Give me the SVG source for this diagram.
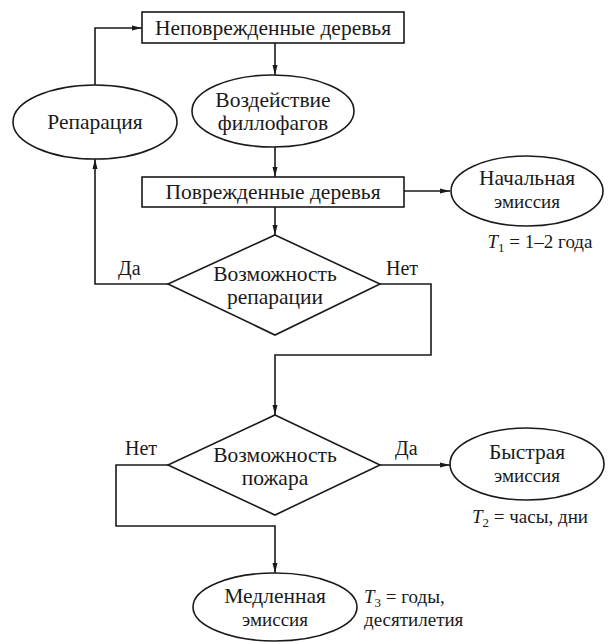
<svg xmlns="http://www.w3.org/2000/svg" width="615" height="642" viewBox="0 0 615 642">
<defs>
<marker id="arr" markerWidth="10" markerHeight="6" refX="10" refY="3" orient="auto" markerUnits="userSpaceOnUse">
<path d="M0,0.5 L10,3 L0,5.5 Z" fill="#1a1a1a"/>
</marker>
</defs>
<style>
.s{fill:#fff;stroke:#1a1a1a;stroke-width:1.6}
.c{fill:none;stroke:#1a1a1a;stroke-width:1.6;marker-end:url(#arr)}
text{font-family:"Liberation Serif","DejaVu Serif",serif;fill:#1a1a1a}
.t{font-size:21.5px;text-anchor:middle}
.m{font-size:19px;text-anchor:middle}
.a{font-size:20px}
.n{font-size:19px}
</style>
<rect width="615" height="642" fill="#fff"/>
<g id="connectors">
<path class="c" d="M95,85 V28 H142"/>
<path class="c" d="M275,43 V75"/>
<path class="c" d="M275,147 V177"/>
<path class="c" d="M404,191 H450"/>
<path class="c" d="M275,207 V235"/>
<path class="c" d="M168,284 H95 V159"/>
<path class="c" d="M380,284 H431 V355 H275 V415"/>
<path class="c" d="M380,465 H450"/>
<path class="c" d="M168,465 H116 V526 H275 V573"/>
</g>
<g id="n_undamaged">
<rect class="s" x="142" y="12" width="262" height="31"/>
<text class="t" x="273" y="35">Неповрежденные деревья</text>
</g>
<g id="n_phyllophages">
<ellipse class="s" cx="273" cy="111" rx="81" ry="36"/>
<text class="t" x="273" y="107">Воздействие</text>
<text class="t" x="273" y="130">филлофагов</text>
</g>
<g id="n_repair">
<ellipse class="s" cx="95" cy="122" rx="82" ry="37"/>
<text class="t" x="95" y="129">Репарация</text>
</g>
<g id="n_damaged">
<rect class="s" x="142" y="177" width="262" height="30"/>
<text class="t" x="273" y="199">Поврежденные деревья</text>
</g>
<g id="n_initial">
<ellipse class="s" cx="527" cy="191" rx="76" ry="35"/>
<text class="t" x="527" y="185">Начальная</text>
<text class="m" x="527" y="208">эмиссия</text>
<text class="n" x="540" y="248" text-anchor="middle"><tspan font-style="italic">T</tspan><tspan font-size="13" dy="4">1</tspan><tspan dy="-4"> = 1–2 года</tspan></text>
</g>
<g id="n_repair_q">
<polygon class="s" points="275,235 380,284 275,335 168,284"/>
<text class="t" x="275" y="281">Возможность</text>
<text class="t" x="275" y="304">репарации</text>
<text class="a" x="118" y="275">Да</text>
<text class="a" x="386" y="275">Нет</text>
</g>
<g id="n_fire_q">
<polygon class="s" points="275,415 380,465 275,515 168,465"/>
<text class="t" x="275" y="462">Возможность</text>
<text class="t" x="275" y="485">пожара</text>
<text class="a" x="125" y="455">Нет</text>
<text class="a" x="395" y="455">Да</text>
</g>
<g id="n_fast">
<ellipse class="s" cx="527" cy="464" rx="77" ry="36"/>
<text class="t" x="527" y="459">Быстрая</text>
<text class="m" x="527" y="482">эмиссия</text>
<text class="n" x="530" y="523" text-anchor="middle"><tspan font-style="italic">T</tspan><tspan font-size="13" dy="4">2</tspan><tspan dy="-4"> = часы, дни</tspan></text>
</g>
<g id="n_slow">
<ellipse class="s" cx="275" cy="607" rx="82" ry="34"/>
<text class="t" x="275" y="603">Медленная</text>
<text class="m" x="275" y="626">эмиссия</text>
<text class="n" x="364" y="603"><tspan font-style="italic">T</tspan><tspan font-size="13" dy="4">3</tspan><tspan dy="-4"> = годы,</tspan></text>
<text class="n" x="364" y="626">десятилетия</text>
</g>
</svg>
